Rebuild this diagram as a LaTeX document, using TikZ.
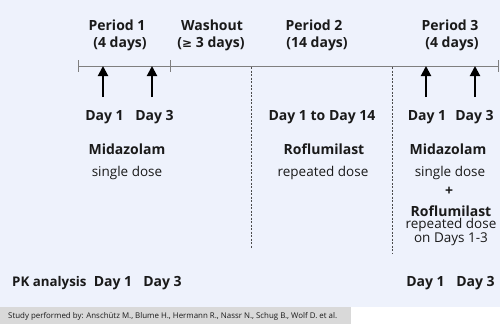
\documentclass[tikz,border=0pt]{standalone}
\usepackage{fontspec}
\setmainfont{Open Sans}
\usetikzlibrary{arrows.meta}
\definecolor{bgblue}{HTML}{EEF2FC}
\definecolor{footgray}{HTML}{D9D9D9}
\definecolor{linegray}{HTML}{7F7F7F}
\definecolor{txt}{HTML}{1A1A1A}
\tikzset{
  hd/.style={font=\fontsize{14}{16}\selectfont\bfseries, text=txt, inner sep=0pt},
  rg/.style={font=\fontsize{13.5}{15}\selectfont, text=txt, inner sep=0pt},
  tl/.style={linegray, line width=1pt},
  tk/.style={linegray, line width=1pt},
  dosearrow/.style={line width=2pt, -{Triangle[length=10pt,width=10pt]}},
  divider/.style={black!70, line width=0.6pt, dash pattern=on 2pt off 1.5pt},
}
\begin{document}
\begin{tikzpicture}[x=1pt,y=-1pt]
\useasboundingbox (0,0) rectangle (500,324);
\fill[white] (0,0) rectangle (500,324);
\fill[bgblue] (0,0) rectangle (500,307);
\fill[footgray] (0,307) rectangle (351,324);
\node[anchor=west, font=\fontsize{7.9}{9}\selectfont, text=txt, inner sep=0pt] (foot) at (8,316) {Study performed by: Ansch\"utz M., Blume H., Hermann R., Nassr N., Schug B., Wolf D. et al.};

% headings
\node[hd] (p1) at (117,25) {Period 1};
\node[hd] (p1d) at (120,44) {(4 days)};
\node[hd] (wo) at (212,25) {Washout};
\node[hd] (wod) at (211,44) {(\fontspec{DejaVu Sans}\bfseries\fontsize{12}{14}\selectfont ≥\normalfont\fontsize{14}{16}\selectfont\bfseries{} 3 days)};
\node[hd] (p2) at (314,25) {Period 2};
\node[hd] (p2d) at (317,44) {(14 days)};
\node[hd] (p3) at (450,25) {Period 3};
\node[hd] (p3d) at (452,44) {(4 days)};

% timeline
\coordinate (tl0) at (78,66);
\coordinate (tl1) at (498,66);
\draw[tl] (tl0) -- (tl1);
\draw[tk] (78,60) -- (78,72);
\draw[tk] (170,60) -- (170,72);
\draw[tk] (498,60) -- (498,72);

% arrows
\coordinate (a1b) at (103,97); \coordinate (a1t) at (103,66);
\coordinate (a2b) at (152,97); \coordinate (a2t) at (152,66);
\coordinate (a3b) at (426,97); \coordinate (a3t) at (426,66);
\coordinate (a4b) at (475,97); \coordinate (a4t) at (475,66);
\draw[dosearrow] (a1b) -- (a1t);
\draw[dosearrow] (a2b) -- (a2t);
\draw[dosearrow] (a3b) -- (a3t);
\draw[dosearrow] (a4b) -- (a4t);

% dividers
\coordinate (d1t) at (251,67); \coordinate (d1b) at (251,249);
\coordinate (d2t) at (392,67); \coordinate (d2b) at (392,253);
\draw[divider] (d1t) -- (d1b);
\draw[divider] (d2t) -- (d2b);

% period 1 text
\node[hd] (p1day1) at (104.5,117) {Day 1};
\node[hd] (p1day3) at (154.5,117) {Day 3};
\node[hd] (p1drug) at (127,149) {Midazolam};
\node[rg] (p1dose) at (127,173) {single dose};

% period 2 text
\node[hd] (p2days) at (322,117) {Day 1 to Day 14};
\node[hd] (p2drug) at (324,149) {Roflumilast};
\node[rg] (p2dose) at (323,173) {repeated dose};

% period 3 text
\node[hd] (p3day1) at (427,117) {Day 1};
\node[hd] (p3day3) at (474.5,117) {Day 3};
\node[hd] (p3drug) at (448,149) {Midazolam};
\node[rg] (p3dose) at (450,173) {single dose};
\node[hd] (plus) at (449,191) {+};
\node[hd] (p3drug2) at (451,211) {Roflumilast};
\node[rg] (p3rep) at (451,225) {repeated dose};
\node[rg] (p3on) at (451,239) {on Days 1-3};

% PK analysis
\node[hd,anchor=west,font=\fontsize{13.3}{15}\selectfont\bfseries] (pk) at (12,283) {PK analysis};
\node[hd] (pk1) at (113,283) {Day 1};
\node[hd] (pk3) at (162.5,283) {Day 3};
\node[hd] (pk31) at (425.5,283) {Day 1};
\node[hd] (pk33) at (475.5,283) {Day 3};
\end{tikzpicture}
\end{document}
